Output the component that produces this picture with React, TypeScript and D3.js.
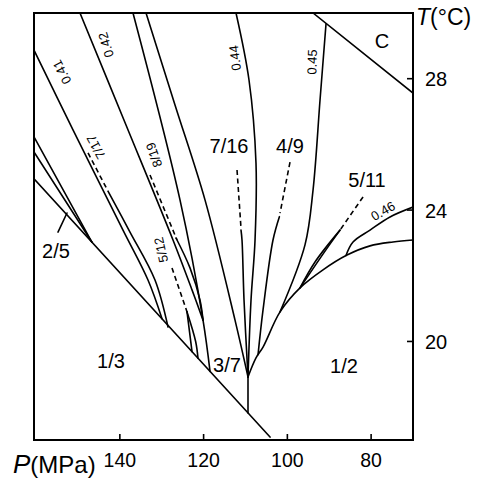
import React from "react";
import * as d3 from "d3";

type Pt = [number, number]; // [P (MPa), T (°C)]

const P_DOMAIN: [number, number] = [160.5, 70];
const T_DOMAIN: [number, number] = [17, 30];
const P_TICKS = [140, 120, 100, 80];
const T_TICKS = [20, 24, 28];

// ---- solid phase boundaries ----
const line13: Pt[] = [[160.5, 24.95], [104.14, 17.09]];
const line37: Pt[] = [[109.4, 18.92], [109.4, 17.82]];
const curve12: Pt[] = [[109.4, 18.92], [107.49, 19.5], [105.81, 19.83], [101.75, 20.9], [96.98, 21.63], [91.49, 22.18], [85.76, 22.63], [80.26, 22.91], [74.77, 23.03], [70, 23.09]];
const line046: Pt[] = [[70, 24.09], [75.49, 23.79], [80.26, 23.39], [84.32, 23.03], [86.0, 22.62]];
const lineC: Pt[] = [[93.87, 30], [70, 27.56]];
const line045: Pt[] = [[90.77, 29.67], [92.2, 27.35], [93.87, 24.61], [95.79, 22.94], [101.75, 20.9]];
const lens511a: Pt[] = [[87.43, 23.39], [93.4, 22.42], [96.98, 21.63]];
const lens511b: Pt[] = [[87.43, 23.39], [91.5, 22.66], [96.98, 21.63]];
const line49: Pt[] = [[101.9, 23.8], [103.43, 23.09], [105.81, 20.96], [107.0, 19.6]];
const line716: Pt[] = [[111.07, 23.39], [110.83, 23.09], [110.35, 21.26], [109.4, 18.92]];
const line044: Pt[] = [[112.26, 30], [109.16, 27.96], [107.49, 25.43], [107.72, 23.09], [108.68, 21.26], [109.4, 18.92]];
const lineL2: Pt[] = [[133.75, 30], [126.83, 27.2], [119.67, 24.31], [112.5, 20.65], [109.4, 18.92]];
const lineL1: Pt[] = [[136.86, 30], [125.64, 24.31], [120.14, 20.65], [118.47, 19.09]];
const line042: Pt[] = [[149.52, 30], [138.53, 26.59], [127.31, 23.09], [122.77, 21.57], [120.14, 20.65]];
const lens819: Pt[] = [[126.59, 23.15], [123.25, 22.24], [120.86, 21.26], [120.14, 20.65]];
const lens512a: Pt[] = [[123.96, 20.9], [122.77, 19.69]];
const lens512b: Pt[] = [[123.96, 20.9], [121.9, 20.0], [121.34, 19.49]];
const line041: Pt[] = [[160.5, 28.87], [151.19, 26.44], [139.25, 23.39], [133.28, 21.87], [129.93, 20.69]];
const lens717: Pt[] = [[142.35, 24.46], [137.58, 23.33], [131.61, 21.87], [128.5, 20.44]];
const line25a: Pt[] = [[160.5, 26.23], [146.65, 23.02]];
const line25b: Pt[] = [[160.5, 25.77], [146.65, 23.02]];
const pointer25: Pt[] = [[154.77, 23.33], [152.62, 23.91]];

// ---- dashed boundaries ----
const dash511: Pt[] = [[81.93, 24.4], [87.43, 23.39]];
const dash49: Pt[] = [[99.37, 25.46], [101.75, 23.91]];
const dash716: Pt[] = [[112.02, 25.22], [111.07, 23.45]];
const dash819: Pt[] = [[132.8, 25.07], [126.35, 23.09]];
const dash512: Pt[] = [[127.55, 22.24], [123.96, 20.9]];
const dash717: Pt[] = [[147.6, 25.74], [142.35, 24.46]];

const solidLines: Pt[][] = [
  line13, line37, curve12, line046, lineC, line045, lens511a, lens511b, line49,
  line716, line044, lineL2, lineL1, line042, lens819, lens512a, lens512b,
  line041, lens717, line25a, line25b, pointer25,
];
const dashedLines: Pt[][] = [dash511, dash49, dash716, dash819, dash512, dash717];

// ---- labels ----
const regionText = ["1/3", "1/2", "3/7", "2/5", "7/16", "4/9", "5/11", "C"];
const regionP = [142.11, 86.47, 114.41, 155.25, 113.93, 99.37, 80.98, 77.4];
const regionT = [19.19, 19.04, 19.07, 22.54, 25.74, 25.74, 24.7, 28.93];

const smallText = ["0.41", "0.42", "0.44", "0.45", "0.46", "7/17", "8/19", "5/12"];
const smallP = [153.81, 143.31, 112.5, 94.1, 77.17, 145.7, 131.84, 130.17];
const smallT = [28.2, 29.03, 28.63, 28.51, 23.97, 25.92, 25.68, 22.79];
const smallAngle = [-117, -107, -97, -88, -30, -118, -110, -103];

const FONT = "'Liberation Sans', Arial, Helvetica, sans-serif";

export default function App() {
  const W = 478, H = 489;
  const m = { left: 34, top: 13, right: 413, bottom: 440 };
  const x = d3.scaleLinear().domain(P_DOMAIN).range([m.left, m.right]);
  const y = d3.scaleLinear().domain(T_DOMAIN).range([m.bottom, m.top]);
  const gen = d3
    .line<Pt>()
    .x((d) => x(d[0]))
    .y((d) => y(d[1]))
    .curve(d3.curveCatmullRom.alpha(0.5));

  return (
    <svg
      width={W}
      height={H}
      style={{ position: "absolute", left: 0, top: 0, background: "#fff" }}
      fontFamily={FONT}
    >
      <defs>
        <clipPath id="plotclip">
          <rect x={m.left} y={m.top} width={m.right - m.left} height={m.bottom - m.top} />
        </clipPath>
      </defs>
      <g clipPath="url(#plotclip)" fill="none" stroke="#000" strokeLinecap="round" strokeLinejoin="round">
        {solidLines.map((d, i) => (
          <path key={"s" + i} d={gen(d) || ""} strokeWidth={1.6} />
        ))}
        {dashedLines.map((d, i) => (
          <path key={"d" + i} d={gen(d) || ""} strokeWidth={1.6} strokeDasharray="5,3.5" strokeLinecap="butt" />
        ))}
      </g>
      <rect
        x={m.left}
        y={m.top}
        width={m.right - m.left}
        height={m.bottom - m.top}
        fill="none"
        stroke="#000"
        strokeWidth={2}
      />
      {P_TICKS.map((p) => (
        <g key={"px" + p}>
          <line x1={x(p)} x2={x(p)} y1={m.bottom} y2={m.bottom - 6} stroke="#000" strokeWidth={1.6} />
          <text x={x(p)} y={467} textAnchor="middle" fontSize={19.5}>
            {p}
          </text>
        </g>
      ))}
      {T_TICKS.map((t) => (
        <g key={"ty" + t}>
          <line x1={m.right} x2={m.right - 6} y1={y(t)} y2={y(t)} stroke="#000" strokeWidth={1.6} />
          <text x={425} y={y(t) + 7.5} textAnchor="start" fontSize={20}>
            {t}
          </text>
        </g>
      ))}
      <text x={13} y={473} fontSize={24}>
        <tspan fontStyle="italic" fontSize={26}>P</tspan>
        <tspan>(MPa)</tspan>
      </text>
      <text x={416} y={25} fontSize={23}>
        <tspan fontStyle="italic">T</tspan>
        <tspan>(°C)</tspan>
      </text>
      {regionText.map((s, i) => (
        <text key={"r" + i} x={x(regionP[i])} y={y(regionT[i])} textAnchor="middle" fontSize={20}>
          {s}
        </text>
      ))}
      {smallText.map((s, i) => (
        <text
          key={"f" + i}
          transform={`translate(${x(smallP[i])},${y(smallT[i])}) rotate(${smallAngle[i]})`}
          textAnchor="middle"
          dominantBaseline="central"
          fontSize={13}
        >
          {s}
        </text>
      ))}
    </svg>
  );
}
